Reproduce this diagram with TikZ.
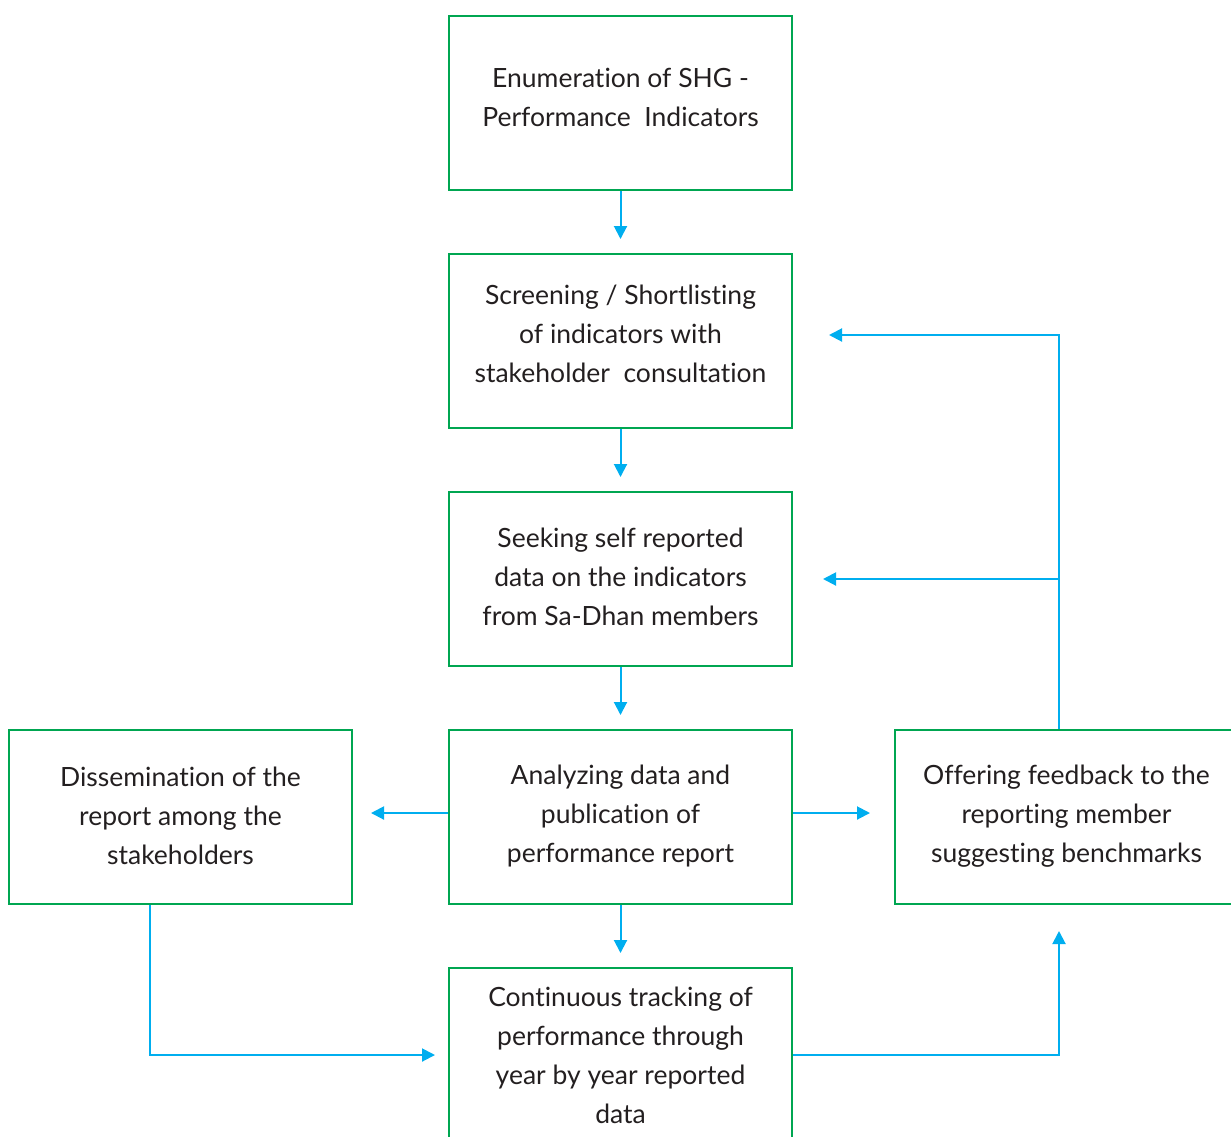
\documentclass[tikz,border=0pt]{standalone}
\usepackage{fontspec}
\setmainfont{Lato}[Ligatures=NoCommon]
\usetikzlibrary{arrows.meta,calc}
\definecolor{boxgreen}{HTML}{00A651}
\definecolor{arrblue}{HTML}{00AEEF}
\definecolor{txtgray}{HTML}{231F20}
\tikzset{
  stepbox/.style={draw=boxgreen, line width=2pt, minimum width=343pt, minimum height=174pt, inner sep=0pt},
  txt/.style={align=center, text=txtgray, font=\fontsize{26.5pt}{39pt}\selectfont, inner sep=0pt},
  conn/.style={draw=arrblue, line width=2pt, -{Triangle[length=13pt,width=13pt]}},
}
\begin{document}
\begin{tikzpicture}[x=1pt,y=-1pt]
\useasboundingbox (0,0) rectangle (1231,1136);
\clip (0,0) rectangle (1231,1136);
\node[stepbox] (b1) at (620.5,103) {};
\node[stepbox] (b2) at (620.5,341) {};
\node[stepbox] (b3) at (620.5,579) {};
\node[stepbox] (b4) at (620.5,817) {};
\node[stepbox] (b5) at (620.5,1055) {};
\node[stepbox] (bl) at (180.5,817) {};
\node[stepbox] (br) at (1066.5,817) {};
\node[txt] (t1) at ([yshift=6pt]b1.center) {Enumeration of SHG -\\Performance \ Indicators};
\node[txt] (t2) at ([yshift=7pt]b2.center) {Screening / Shortlisting\\of indicators with\\stakeholder \ consultation};
\node[txt] (t3) at ([yshift=2pt]b3.center) {Seeking self reported\\data on the indicators\\from Sa-Dhan members};
\node[txt] (t4) at ([yshift=1pt]b4.center) {Analyzing data and\\publication of\\performance report};
\node[txt] (tl) at ([yshift=1pt]bl.center) {Dissemination of the\\report among the\\stakeholders};
\node[txt] (tr) at ([yshift=1pt]br.center) {Offering feedback to the\\reporting member\\suggesting benchmarks};
\node[txt] (t5) at ([yshift=0pt]b5.center) {Continuous tracking of\\performance through\\year by year reported\\data};
\coordinate (fbx) at (1059,0);
\coordinate (dsx) at (150,0);
\coordinate (hy) at (0,813);
\coordinate (fby) at (0,335);
\draw[conn, shorten >=14pt] (b1.south) -- (b2.north);
\draw[conn, shorten >=14pt] (b2.south) -- (b3.north);
\draw[conn, shorten >=14pt] (b3.south) -- (b4.north);
\draw[conn, shorten >=14pt] (b4.south) -- (b5.north);
\draw[conn, shorten >=18pt] (b4.west |- hy) -- (bl.east |- hy);
\draw[conn, shorten >=24pt] (b4.east |- hy) -- (br.west |- hy);
\draw[conn, shorten >=36pt] (br.north -| fbx) |- (b2.east |- fby);
\draw[conn, shorten >=30pt] (b3.east -| fbx) -- (b3.east);
\draw[conn, shorten >=13pt] (bl.south -| dsx) |- (b5.west);
\draw[conn, shorten >=26pt] (b5.east) -| (br.south -| fbx);
\end{tikzpicture}
\end{document}
